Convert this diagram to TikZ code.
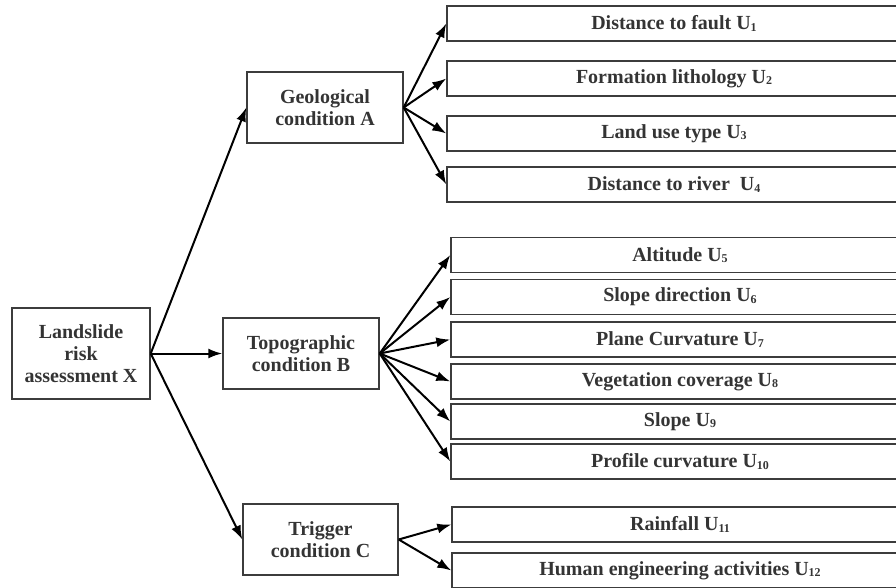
\documentclass[tikz,border=0pt]{standalone}
\usepackage{fontspec}
\setmainfont{Liberation Serif}
\usetikzlibrary{arrows.meta}
\definecolor{txt}{RGB}{52,52,52}
\definecolor{edge}{RGB}{60,60,60}
\newcommand{\usub}[1]{\raisebox{-1.2pt}{\fontsize{12}{12}\selectfont #1}}
\begin{document}
\begin{tikzpicture}[x=1pt,y=-1pt,
  box/.style={draw=edge,line width=1.4pt,rectangle,inner sep=0pt,align=center,
    text=txt,font=\fontsize{20}{22}\selectfont\bfseries},
  mainbox/.style={box,minimum width=156pt,minimum height=71pt},
  leaf/.style={box,minimum height=35pt},
  arr/.style={line width=2pt,-{Latex[length=14pt,width=10pt]}}]
\useasboundingbox (0,0) rectangle (896,587);
\clip (0,0) rectangle (896,587);
\node[box,minimum width=138pt,minimum height=91pt] (X) at (81,353.5) {Landslide\\risk\\assessment X};
\node[mainbox] (A) at (325,107.5) {Geological\\condition A};
\node[mainbox] (B) at (301,353.5) {Topographic\\condition B};
\node[mainbox,minimum width=155pt] (C) at (320.5,539.5) {Trigger\\condition C};
% geological children
\node[leaf,minimum width=454pt] (U1) at (674,23.5) {Distance to fault U\usub{1}};
\node[leaf,minimum width=454pt] (U2) at (674,78.5) {Formation lithology U\usub{2}};
\node[leaf,minimum width=454pt] (U3) at (674,133.5) {Land use type U\usub{3}};
\node[leaf,minimum width=454pt] (U4) at (674,184.5) {Distance to river\ \ U\usub{4}};
% topographic children
\node[leaf,minimum width=458pt] (U5) at (680,255) {Altitude U\usub{5}};
\node[leaf,minimum width=458pt] (U6) at (680,297) {Slope direction U\usub{6}};
\node[leaf,minimum width=458pt] (U7) at (680,339.5) {Plane Curvature U\usub{7}};
\node[leaf,minimum width=458pt] (U8) at (680,381.5) {Vegetation coverage U\usub{8}};
\node[leaf,minimum width=458pt] (U9) at (680,421.5) {Slope U\usub{9}};
\node[leaf,minimum width=458pt] (U10) at (680,461.5) {Profile curvature U\usub{10}};
% trigger children
\node[leaf,minimum width=456pt] (U11) at (680,524.5) {Rainfall U\usub{11}};
\node[leaf,minimum width=456pt] (U12) at (680,570.5) {Human engineering activities U\usub{12}};
% connectors
\foreach \t in {A,B,C} \draw[arr] (X.east) -- (\t.west);
\foreach \t in {U1,U2,U3,U4} \draw[arr] (A.east) -- (\t.west);
\foreach \t in {U5,U6,U7,U8,U9,U10} \draw[arr] (B.east) -- (\t.west);
\foreach \t in {U11,U12} \draw[arr] (C.east) -- (\t.west);
\end{tikzpicture}
\end{document}
